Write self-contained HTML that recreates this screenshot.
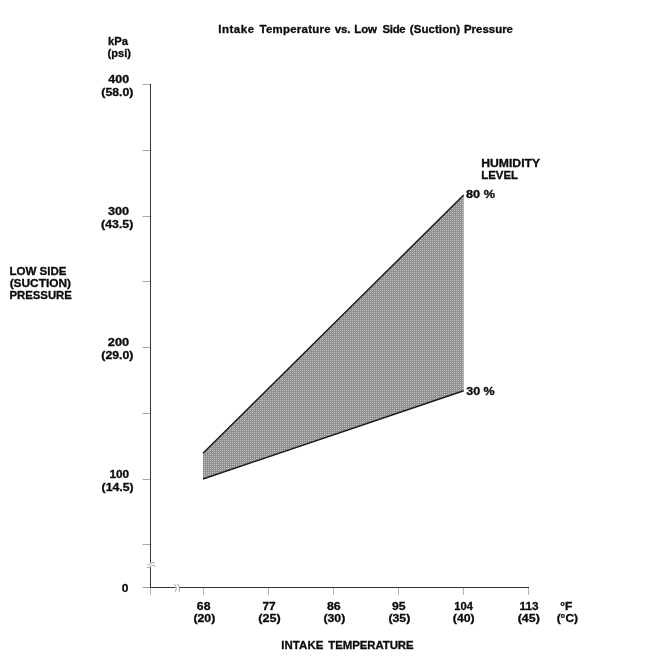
<!DOCTYPE html>
<html><head><meta charset="utf-8"><title>Intake Temperature vs. Low Side (Suction) Pressure</title>
<style>
html,body{margin:0;padding:0;background:#fff;}
svg{display:block;}
text{font-family:"Liberation Sans",sans-serif;font-weight:bold;fill:#0c0c0c;stroke:#0c0c0c;stroke-width:0.3px;white-space:pre;}
</style></head><body>
<svg width="658" height="660" viewBox="0 0 658 660">
<rect width="658" height="660" fill="#fff"/>
<defs>
<pattern id="ht" width="2" height="2" patternUnits="userSpaceOnUse">
<rect width="2" height="2" fill="#909090"/>
<rect x="0" y="0" width="1" height="1" fill="#c2c2c2"/>
</pattern>
</defs>
<!-- shaded band -->
<polygon points="203,453.3 463.7,195 463.7,390.8 203,479" fill="url(#ht)"/>
<line x1="203" y1="453.3" x2="463.7" y2="195" stroke="#1a1a1a" stroke-width="1.45"/>
<line x1="203" y1="479" x2="463.7" y2="390.8" stroke="#1a1a1a" stroke-width="1.45"/>
<!-- ticks -->
<g stroke="#a6a6a6" stroke-width="1" fill="none">
<line x1="142.5" y1="84.5" x2="150" y2="84.5"/>
<line x1="142.5" y1="150.5" x2="150" y2="150.5"/>
<line x1="142.5" y1="216.5" x2="150" y2="216.5"/>
<line x1="142.5" y1="281.5" x2="150" y2="281.5"/>
<line x1="142.5" y1="347.5" x2="150" y2="347.5"/>
<line x1="142.5" y1="413.5" x2="150" y2="413.5"/>
<line x1="142.5" y1="479.5" x2="150" y2="479.5"/>
<line x1="142.5" y1="544.5" x2="150" y2="544.5"/>
<line x1="142.5" y1="587.5" x2="150" y2="587.5"/>
</g>
<g stroke="#b2b2b2" stroke-width="1" fill="none">
<line x1="150.5" y1="588" x2="150.5" y2="595"/>
<line x1="203.5" y1="588" x2="203.5" y2="595"/>
<line x1="268.5" y1="588" x2="268.5" y2="595"/>
<line x1="333.5" y1="588" x2="333.5" y2="595"/>
<line x1="398.5" y1="588" x2="398.5" y2="595"/>
<line x1="463.5" y1="588" x2="463.5" y2="595"/>
<line x1="528.5" y1="588" x2="528.5" y2="595"/>
</g>
<!-- axes -->
<g fill="none" stroke-width="1">
<path d="M150.5 84 V588 M150 587.5 H529" stroke="#4c4c4c"/>
<path d="M150.5 84 V588 M150 587.5 H529" stroke="#1a1a1a" stroke-dasharray="1 1"/>
</g>
<!-- axis breaks -->
<g fill="none" stroke="#8c8c8c" stroke-width="0.8">
<rect x="149" y="562.6" width="3" height="4.4" fill="#fff" stroke="none"/>
<path d="M147.5 564.8 Q149.6 564.6 151 563.1 Q152.6 561.6 154.8 563.4"/>
<path d="M147 567.5 Q149.6 567.3 151.3 565.6 Q153 564.1 155.4 566.6"/>
<rect x="175.3" y="586" width="3.8" height="3" fill="#fff" stroke="none"/>
<path d="M174.4 584 C176.2 586 176.9 588.6 175.3 591.8"/>
<path d="M177.5 584 C179.6 586 179.9 588.6 179.2 591.8"/>
</g>

<g>
<text transform="translate(0 32.50) scale(1.043 1)" font-size="11"><tspan x="209.22" letter-spacing="0.529">Intake</tspan> <tspan x="248.87" letter-spacing="0.234">Temperature</tspan> <tspan x="321.06" letter-spacing="-0.188">vs.</tspan> <tspan x="339.71" letter-spacing="-0.126">Low</tspan> <tspan x="366.83" letter-spacing="-0.373">Side</tspan> <tspan x="392.88" letter-spacing="0.092">(Suction)</tspan> <tspan x="444.79" letter-spacing="0.003">Pressure</tspan></text>
<text transform="translate(108.03 44.80) scale(1.023 1)" font-size="11">kPa</text>
<text transform="translate(107.49 56.50) scale(1.012 1)" font-size="11">(psi)</text>
<text transform="translate(108.35 82.60) scale(1.188 1)" font-size="10.5">400</text>
<text transform="translate(101.31 95.70) scale(1.172 1)" font-size="10.5">(58.0)</text>
<text transform="translate(108.00 215.20) scale(1.209 1)" font-size="10.5">300</text>
<text transform="translate(101.11 227.90) scale(1.175 1)" font-size="10.5">(43.5)</text>
<text transform="translate(107.84 345.50) scale(1.218 1)" font-size="10.5">200</text>
<text transform="translate(101.31 358.50) scale(1.172 1)" font-size="10.5">(29.0)</text>
<text transform="translate(109.40 478.00) scale(1.127 1)" font-size="10.5">100</text>
<text transform="translate(101.62 490.50) scale(1.168 1)" font-size="10.5">(14.5)</text>
<text transform="translate(121.77 592.00) scale(1.14 1)" font-size="10.5">0</text>
<text transform="translate(9.41 275.40) scale(1.05 1)" font-size="11">LOW SIDE</text>
<text transform="translate(9.66 287.40) scale(1.082 1)" font-size="11">(SUCTION)</text>
<text transform="translate(9.42 299.20) scale(1.034 1)" font-size="11">PRESSURE</text>
<text transform="translate(481.17 166.70) scale(1.109 1)" font-size="11">HUMIDITY</text>
<text transform="translate(481.22 178.90) scale(1.041 1)" font-size="11">LEVEL</text>
<text transform="translate(466.05 198.00) scale(1.213 1)" font-size="10.5">80 %</text>
<text transform="translate(466.20 394.90) scale(1.194 1)" font-size="10.5">30 %</text>
<text transform="translate(196.86 609.60) scale(1.164 1)" font-size="10.5">68</text>
<text transform="translate(193.41 621.90) scale(1.174 1)" font-size="10.5">(20)</text>
<text transform="translate(262.43 609.60) scale(1.135 1)" font-size="10.5">77</text>
<text transform="translate(258.20 621.90) scale(1.203 1)" font-size="10.5">(25)</text>
<text transform="translate(326.96 609.60) scale(1.177 1)" font-size="10.5">86</text>
<text transform="translate(323.41 621.90) scale(1.174 1)" font-size="10.5">(30)</text>
<text transform="translate(391.96 609.60) scale(1.164 1)" font-size="10.5">95</text>
<text transform="translate(388.41 621.90) scale(1.174 1)" font-size="10.5">(35)</text>
<text transform="translate(454.34 609.60) scale(1.061 1)" font-size="10.5">104</text>
<text transform="translate(452.82 621.90) scale(1.169 1)" font-size="10.5">(40)</text>
<text transform="translate(519.50 609.60) scale(1.121 1)" font-size="10.5">113</text>
<text transform="translate(517.71 621.90) scale(1.186 1)" font-size="10.5">(45)</text>
<text transform="translate(560.33 609.60) scale(1.138 1)" font-size="10.5">°F</text>
<text transform="translate(556.63 621.90) scale(1.138 1)" font-size="10.5">(°C)</text>
<text transform="translate(0 648.70) scale(1.039 1)" font-size="11"><tspan x="270.76" letter-spacing="0.073">INTAKE</tspan> <tspan x="316.04" letter-spacing="-0.076">TEMPERATURE</tspan></text>
</g>
</svg>
</body></html>
